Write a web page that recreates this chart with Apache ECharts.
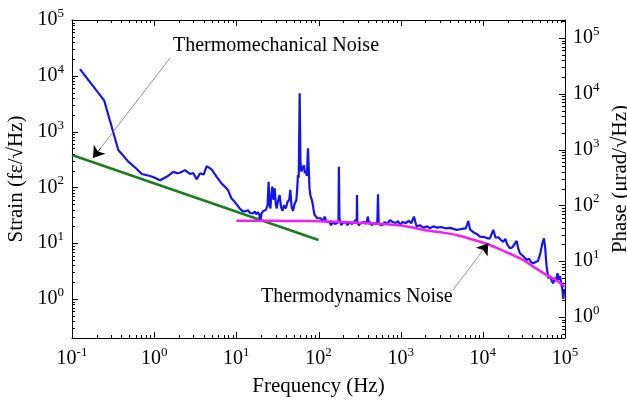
<!DOCTYPE html>
<html>
<head>
<meta charset="utf-8">
<script src="https://cdn.jsdelivr.net/npm/echarts@6/dist/echarts.min.js"></script>
<style>html,body{margin:0;padding:0;background:#fff}#c{width:627px;height:402px}</style>
</head>
<body>
<div id="c"></div>
<script>
// ---- data ----
const blueFreq = [0.125,0.247,0.304,0.366,0.485,0.6,0.705,0.89,1.0,1.18,1.42,1.71,1.9,2.06,2.37,2.73,3.0,3.29,3.61,4.0,4.36,5.0,5.77,6.64,7.27,7.9,8.7,9.55,
 11,11.8,12.6,13.3,13.9,14.6,15.3,16,16.8,17.6,18.4,19.0,19.6,20.2,21,22,23,24,24.7,25.3,26,26.6,27.4,28.3,29.3,30.2,31,32,33.6,35,36.5,38,40,42,44,45.4,47,49,51,53.7,55,56.2,57.5,59,60.3,61.7,63,64.5,66.5,68,70,72,74.5,77.7,80,83,85.5,87,89.7,93,97,
 102,107,112,119,125,130,136,142,150,158,165,170,175,177,180,189,197,205,215,225,240,255,270,285,292,294,297,310,325,340,360,380,400,410,425,445,470,500,520,530,540,560,600,640,680,741,800,870,930,981,
 1050,1150,1250,1350,1452,1520,1565,1700,1900,2100,2275,2500,2800,3100,3500,4000,4800,5500,6200,6650,7000,7800,8500,9230,
 10500,11500,12200,13400,14300,15500,16500,17700,18800,19800,21400,23000,25800,27000,28300,30500,32000,34100,36500,38500,41100,44000,47000,50000,53000,55500,57500,59500,62700,66000,69000,72000,75000,78000,81000,84000,87000,90000,93000,95300,97000,100000];
const blueVal = [13200,3580,1225,468,290,220,174,160,150,134,155,190,180,183,204,174,180,140,178,170,240,210,155,117,103,90,64,55,
 42,38,37,40,39,35,37,34,37,33,36,33,24,34,37,35,40,48,126,50,42,70,103,60,96,50,42,55,73,45,38,48,42,55,60,90,45,38,50,59,90,167,150,4850,300,191,210,200,251,180,200,160,500,96,70,60,48,40,32,34,28,
 26,28,24,30,24,22.7,24,21,24,22,21,23,25,235,28,21,23,22,24,21,24,22,24,23,27,73,24,21,23,22,24,22,30,22,24,21,23,22,24,75,22,23,21,24,22,26,24,23,25,21,
 24,23,25,23,30,23,20,21,19,20,18.5,20,19,19.5,18.5,18.8,17.3,18,18.5,25,17.5,15.5,14.5,13.1,
 12.8,12.2,12.2,17.3,12.5,12.8,11.5,10.6,12,9.5,8.1,8.5,11,8,6.6,6,6.3,5.0,5.3,4.6,4.37,4.6,4.8,6.5,10,12.2,8,4,2.35,2.6,2.1,1.91,2.4,2.1,2.9,2.2,2.6,1.9,1.5,1.0,1.3,1.5];
const greenFreq = [0.1, 100];
const greenVal = [380, 11.4];
const magentaFreq = [10,30,50,100,200,300,500,700,950,1300,1900,3000,4800,8000,12200,18000,24000,31000,41000,55000,65000,79000,100000];
const magentaVal = [25.3,25.2,25,24.7,24,23.3,22.5,21.8,21,19.5,17.3,15.8,14,11.3,9.3,7.2,6,5.0,3.8,2.9,2.5,2.15,1.66];
const annotations = [
  {text: 'Thermomechanical Noise', from: [1.56, 20800], to: [0.18, 336]},
  {text: 'Thermodynamics Noise', from: [4330, 1.45], to: [11650, 9.95]}
];

// ---- helpers ----
const zip = (a, b) => a.map((v, i) => [v, b[i]]);
function minorVals(lo, hi) {
  const out = [];
  for (let k = -2; k <= 6; k++) for (let m = 2; m <= 9; m++) {
    const v = m * Math.pow(10, k);
    if (v > lo && v < hi) out.push(v);
  }
  return out;
}
function majorVals(lo, hi) {
  const out = [];
  for (let k = -2; k <= 6; k++) { const v = Math.pow(10, k); if (v >= lo * 0.999 && v <= hi * 1.001) out.push(v); }
  return out;
}
// point a fraction t along a segment, in log space (for the short black arrow head piece)
function logLerp(a, b, t) {
  return [0, 1].map(i => Math.pow(10, Math.log10(a[i]) + (Math.log10(b[i]) - Math.log10(a[i])) * t));
}
const SERIF = '"Liberation Serif","Times New Roman",serif';
function powLabel(v) {
  const e = Math.log10(v);
  const r = Math.round(e);
  if (Math.abs(e - r) > 1e-6) return '';
  return '{b|10}{s|' + (r < 0 ? '-' + (-r) : r) + '}';
}
const rich = {
  b: {fontSize: 20, fontFamily: SERIF, color: '#000', lineHeight: 26},
  s: {fontSize: 13, fontFamily: SERIF, color: '#000', lineHeight: 13, verticalAlign: 'top'}
};
const XMIN = 0.1, XMAX = 1e5, YMIN = 0.2, YMAX = 1e5, Y2MIN = 0.42, Y2MAX = 2.1e5;

function tickSeries(vals, kind, yAxisIndex, L) {
  return {
    type: 'custom', xAxisIndex: 0, yAxisIndex: yAxisIndex, silent: true, clip: false, z: 10,
    data: vals.map(v => kind === 'x' ? [v, 1] : [1, v]),
    renderItem: function (params, api) {
      const cs = params.coordSys;
      const st = {stroke: '#000', lineWidth: 1, fill: null};
      if (kind === 'x') {
        const x = Math.round(api.coord([api.value(0), 1])[0]) + 0.5;
        return {type: 'group', children: [
          {type: 'line', shape: {x1: x, y1: cs.y + cs.height, x2: x, y2: cs.y + cs.height - L}, style: st},
          {type: 'line', shape: {x1: x, y1: cs.y, x2: x, y2: cs.y + L}, style: st}
        ]};
      }
      const y = Math.round(api.coord([1, api.value(1)])[1]) + 0.5;
      if (kind === 'yl') return {type: 'line', shape: {x1: cs.x, y1: y, x2: cs.x + L, y2: y}, style: st};
      return {type: 'line', shape: {x1: cs.x + cs.width, y1: y, x2: cs.x + cs.width - L, y2: y}, style: st};
    }
  };
}

const chart = echarts.init(document.getElementById('c'), null, {renderer: 'canvas'});
const axisCommon = {
  type: 'log', logBase: 10,
  axisLine: {show: true, lineStyle: {color: '#000', width: 1}},
  axisTick: {show: false},
  splitLine: {show: false},
  minorTick: {show: false}
};
chart.setOption({
  animation: false,
  backgroundColor: '#fff',
  grid: {left: 72, right: 62, top: 20, bottom: 64, containLabel: false, outerBoundsMode: 'none'},
  xAxis: [
    Object.assign({}, axisCommon, {
      min: XMIN, max: XMAX, splitNumber: 6, position: 'bottom',
      name: 'Frequency (Hz)', nameLocation: 'middle', nameGap: 38,
      nameTextStyle: {fontFamily: SERIF, fontSize: 21, color: '#000'},
      axisLabel: {formatter: powLabel, rich: rich, margin: 8, showMinLabel: true, showMaxLabel: true}
    }),
    Object.assign({}, axisCommon, {
      min: XMIN, max: XMAX, splitNumber: 6, position: 'top',
      axisLabel: {show: false}
    })
  ],
  yAxis: [
    Object.assign({}, axisCommon, {
      min: YMIN, max: YMAX, splitNumber: 6, position: 'left',
      name: 'Strain (fε/√Hz)', nameLocation: 'middle', nameGap: 31, nameRotate: 90,
      nameTextStyle: {fontFamily: SERIF, fontSize: 21, color: '#000'},
      axisLabel: {formatter: powLabel, rich: rich, margin: 8}
    }),
    Object.assign({}, axisCommon, {
      min: Y2MIN, max: Y2MAX, splitNumber: 6, position: 'right',
      name: 'Phase (μrad/√Hz)', nameLocation: 'middle', nameGap: 38, nameRotate: 90,
      nameTextStyle: {fontFamily: SERIF, fontSize: 21, color: '#000'},
      axisLabel: {formatter: powLabel, rich: rich, margin: 8}
    })
  ],
  series: [
    {type: 'line', name: 'measured', data: zip(blueFreq, blueVal), showSymbol: false, symbol: 'none',
     lineStyle: {color: '#1414f0', width: 2.2}, z: 3,
     markLine: {
       silent: true, symbol: ['none', 'none'],
       label: {show: false},
       lineStyle: {color: '#777', width: 0.8, type: 'solid'},
       data: annotations.map(a => [{coord: a.from}, {coord: a.to}])
     }},
    {type: 'line', name: 'thermomechanical', data: zip(greenFreq, greenVal), showSymbol: false, symbol: 'none',
     lineStyle: {color: '#1b7d1b', width: 2.5}, z: 2,
     markLine: {
       silent: true, symbol: ['none', 'arrow'], symbolSize: 11,
       label: {show: false},
       lineStyle: {color: '#000', width: 0.8, type: 'solid'},
       data: annotations.map(a => [{coord: logLerp(a.from, a.to, 0.9)}, {coord: a.to}])
     }},
    {type: 'line', name: 'thermodynamics', data: zip(magentaFreq, magentaVal), showSymbol: false, symbol: 'none', smooth: 0.3,
     lineStyle: {color: '#f21ef2', width: 2.5}, z: 4},
    tickSeries(minorVals(XMIN, XMAX), 'x', 0, 3),
    tickSeries(majorVals(XMIN, XMAX), 'x', 0, 6),
    tickSeries(minorVals(YMIN, YMAX), 'yl', 0, 3),
    tickSeries(majorVals(YMIN, YMAX), 'yl', 0, 6),
    tickSeries(minorVals(Y2MIN, Y2MAX), 'yr', 1, 3),
    tickSeries(majorVals(Y2MIN, Y2MAX), 'yr', 1, 6)
  ],
  graphic: [
    {type: 'text', left: 173, top: 36, style: {text: annotations[0].text, font: '20px ' + SERIF, fill: '#000'}},
    {type: 'text', left: 261, top: 287, style: {text: annotations[1].text, font: '20px ' + SERIF, fill: '#000'}}
  ]
});
</script>
</body>
</html>
